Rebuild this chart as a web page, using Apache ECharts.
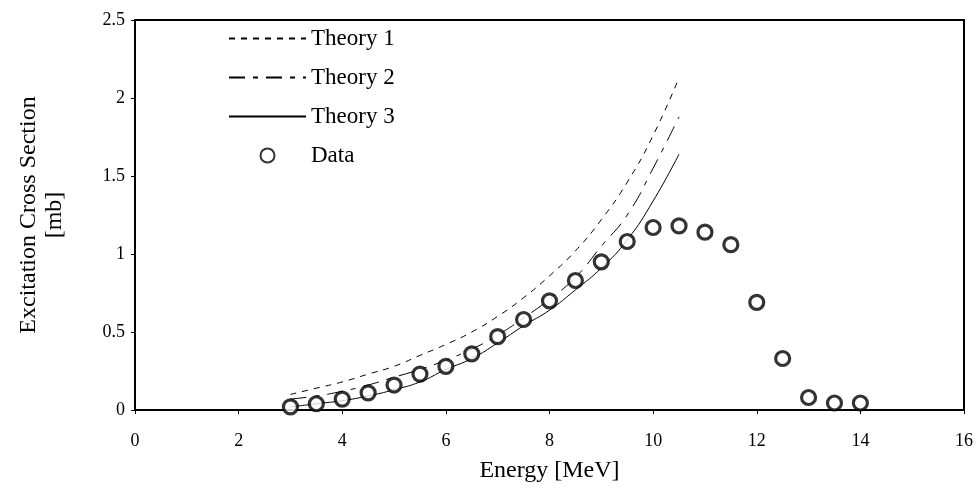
<!DOCTYPE html>
<html>
<head>
<meta charset="utf-8">
<script src="https://cdn.jsdelivr.net/npm/echarts@6/dist/echarts.min.js"></script>
<style>html,body{margin:0;padding:0;background:#fff}#c{width:976px;height:502px}</style>
</head>
<body>
<div id="c"></div>
<script>
var theoryEnergy = [3, 3.5, 4, 4.5, 5, 5.5, 6, 6.5, 7, 7.5, 8, 8.5, 9, 9.5, 10, 10.5];
var theory1 = [0.10, 0.14, 0.18, 0.23, 0.28, 0.35, 0.42, 0.50, 0.60, 0.72, 0.86, 1.02, 1.22, 1.46, 1.76, 2.13];
var theory2 = [0.07, 0.09, 0.12, 0.16, 0.21, 0.26, 0.32, 0.39, 0.48, 0.59, 0.71, 0.85, 1.05, 1.25, 1.55, 1.88];
var theory3 = [0.02, 0.04, 0.06, 0.09, 0.13, 0.18, 0.26, 0.33, 0.43, 0.54, 0.64, 0.77, 0.91, 1.09, 1.34, 1.64];
var dataEnergy = [3, 3.5, 4, 4.5, 5, 5.5, 6, 6.5, 7, 7.5, 8, 8.5, 9, 9.5, 10, 10.5, 11, 11.5, 12, 12.5, 13, 13.5, 14];
var dataValues = [0.02, 0.04, 0.07, 0.11, 0.16, 0.23, 0.28, 0.36, 0.47, 0.58, 0.70, 0.83, 0.95, 1.08, 1.17, 1.18, 1.14, 1.06, 0.69, 0.33, 0.08, 0.045, 0.045];
var seriesNames = ['Theory 1', 'Theory 2', 'Theory 3', 'Data'];
var xTitle = 'Energy [MeV]';
var yTitle = 'Excitation Cross Section\n[mb]';

function pairs(xs, ys) { return xs.map(function (x, i) { return [x, ys[i]]; }); }
var FONT = '"Liberation Serif", "Times New Roman", serif';
var chart = echarts.init(document.getElementById('c'), null, {renderer: 'canvas'});
var hideDot = {opacity: 0};
chart.setOption({
  animation: false,
  backgroundColor: '#fff',
  textStyle: {fontFamily: FONT, color: '#000'},
  grid: {left: 135, right: 11, top: 20, bottom: 92, show: true, borderColor: '#000', borderWidth: 2, backgroundColor: 'transparent'},
  legend: {
    orient: 'vertical', left: 223, top: 22, itemWidth: 77, itemHeight: 14, itemGap: 16,
    textStyle: {fontFamily: FONT, fontSize: 23, color: '#000'},
    data: [
      {name: seriesNames[0], itemStyle: hideDot},
      {name: seriesNames[1], itemStyle: hideDot},
      {name: seriesNames[2], itemStyle: hideDot},
      {name: seriesNames[3]}
    ]
  },
  xAxis: {
    type: 'value', min: 0, max: 16, interval: 2,
    name: xTitle, nameLocation: 'middle', nameGap: 49,
    nameTextStyle: {fontFamily: FONT, fontSize: 24, color: '#000'},
    axisLine: {lineStyle: {color: '#000', width: 2}},
    axisTick: {show: true, length: 4, lineStyle: {color: '#000'}},
    axisLabel: {fontFamily: FONT, fontSize: 18, color: '#000', margin: 22},
    splitLine: {show: false}
  },
  yAxis: {
    type: 'value', min: 0, max: 2.5, interval: 0.5,
    name: yTitle, nameLocation: 'middle', nameGap: 67, nameRotate: 90,
    nameTextStyle: {fontFamily: FONT, fontSize: 24, color: '#000', lineHeight: 26},
    axisLine: {show: true, lineStyle: {color: '#000', width: 2}},
    axisTick: {show: true, length: 4, lineStyle: {color: '#000'}},
    axisLabel: {fontFamily: FONT, fontSize: 18, color: '#000', margin: 10},
    splitLine: {show: false}
  },
  series: [
    {name: seriesNames[0], type: 'line', smooth: true, symbol: 'none', data: pairs(theoryEnergy, theory1),
     lineStyle: {color: '#000', width: 1, type: [6, 6]}, itemStyle: {color: '#000'}},
    {name: seriesNames[1], type: 'line', smooth: true, symbol: 'none', data: pairs(theoryEnergy, theory2),
     lineStyle: {color: '#000', width: 1, type: [16, 8, 5, 8]}, itemStyle: {color: '#000'}},
    {name: seriesNames[2], type: 'line', smooth: true, symbol: 'none', data: pairs(theoryEnergy, theory3),
     lineStyle: {color: '#000', width: 1, type: 'solid'}, itemStyle: {color: '#000'}},
    {name: seriesNames[3], type: 'scatter', symbol: 'circle', symbolSize: 14, data: pairs(dataEnergy, dataValues),
     itemStyle: {color: '#fff', borderColor: '#000', borderWidth: 3.2}, z: 5}
  ]
});
</script>
</body>
</html>
